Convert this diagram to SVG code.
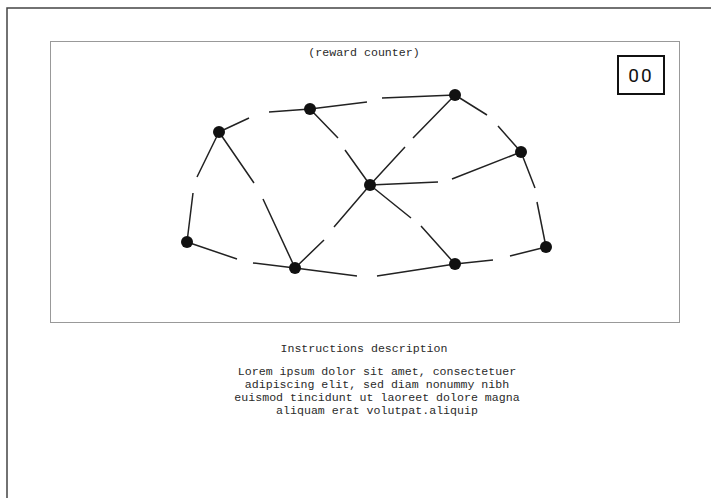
<svg xmlns="http://www.w3.org/2000/svg" width="711" height="498" viewBox="0 0 711 498">
<style>
.mono{font-family:"Liberation Mono","Courier New",monospace;font-size:11.6px;fill:#2a2a2a;text-anchor:middle}
.edge{stroke:#222;stroke-width:1.5;fill:none}
.node circle{fill:#111}
</style>
<rect x="0" y="0" width="711" height="498" fill="#fff"/>
<rect x="7" y="8" width="720" height="500" fill="none" stroke="#444" stroke-width="1.5"/>
<rect x="50.5" y="41.5" width="629" height="281" fill="none" stroke="#999" stroke-width="1"/>
<text class="mono" x="364" y="56">(reward counter)</text>
<g id="counter">
<rect x="618" y="56" width="46" height="38" fill="#fff" stroke="#111" stroke-width="2"/>
<text x="641" y="82" font-family="Roboto,'DejaVu Sans',sans-serif" font-size="19" letter-spacing="2" text-anchor="middle" fill="#111">00</text>
</g>
<g id="connectors">
<path class="edge" d="M219 132 L249 118 M269 112 L310 109"/>
<path class="edge" d="M310 109 L367 102 M382 98 L455 95"/>
<path class="edge" d="M455 95 L487 115 M498 126 L521 152"/>
<path class="edge" d="M219 132 L197 177 M193 193 L187 242"/>
<path class="edge" d="M219 132 L254 183 M263 199 L295 268"/>
<path class="edge" d="M310 109 L338 138 M345 150 L370 185"/>
<path class="edge" d="M455 95 L413 138 M405 147 L370 185"/>
<path class="edge" d="M370 185 L438 182 M452 179 L521 152"/>
<path class="edge" d="M521 152 L535 188 M537 202 L546 247"/>
<path class="edge" d="M370 185 L411 218 M421 226 L455 264"/>
<path class="edge" d="M455 264 L493 260 M510 256 L546 247"/>
<path class="edge" d="M295 268 L357 276 M377 276 L455 264"/>
<path class="edge" d="M187 242 L237 259 M253 263 L295 268"/>
<path class="edge" d="M295 268 L324 240 M334 227 L370 185"/>
</g>
<g id="nA" class="node"><circle cx="219" cy="132" r="6"/></g>
<g id="nB" class="node"><circle cx="310" cy="109" r="6"/></g>
<g id="nC" class="node"><circle cx="455" cy="95" r="6"/></g>
<g id="nD" class="node"><circle cx="521" cy="152" r="6"/></g>
<g id="nE" class="node"><circle cx="370" cy="185" r="6"/></g>
<g id="nF" class="node"><circle cx="187" cy="242" r="6"/></g>
<g id="nG" class="node"><circle cx="295" cy="268" r="6"/></g>
<g id="nH" class="node"><circle cx="455" cy="264" r="6"/></g>
<g id="nI" class="node"><circle cx="546" cy="247" r="6"/></g>
<text class="mono" x="364" y="352">Instructions description</text>
<text class="mono" x="377" y="375">Lorem ipsum dolor sit amet, consectetuer</text>
<text class="mono" x="377" y="388">adipiscing elit, sed diam nonummy nibh</text>
<text class="mono" x="377" y="401">euismod tincidunt ut laoreet dolore magna</text>
<text class="mono" x="377" y="414">aliquam erat volutpat.aliquip</text>
</svg>
